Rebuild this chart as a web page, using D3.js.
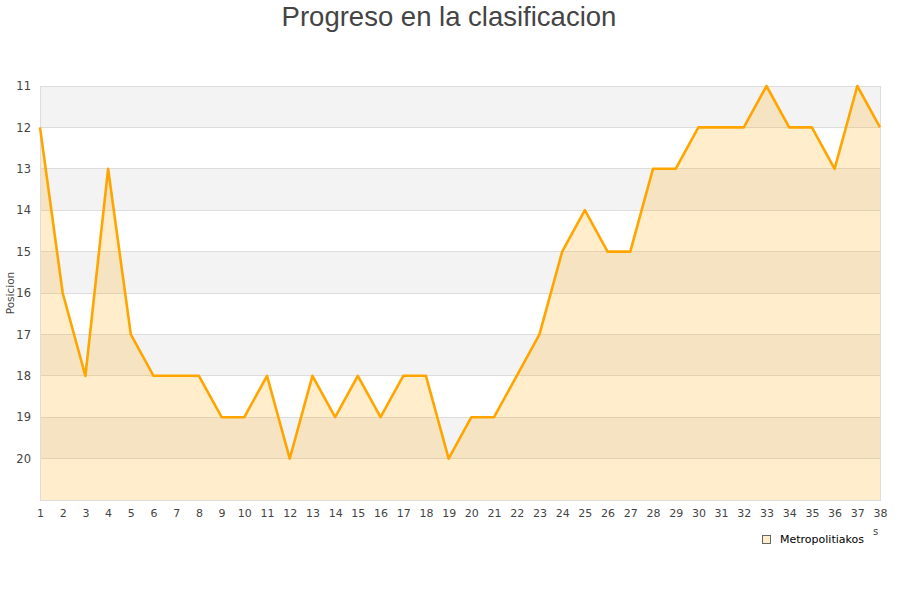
<!DOCTYPE html>
<html><head><meta charset="utf-8">
<script src="https://cdn.jsdelivr.net/npm/d3@7"></script>
<style>body{margin:0;background:#fff}svg{display:block}</style>
</head><body>
<svg id="c" width="900" height="600"></svg>
<script>
const jornadas = d3.range(1, 39);
const posiciones = [12,16,18,13,17,18,18,18,19,19,18,20,18,19,18,19,18,18,20,19,19,18,17,15,14,15,15,13,13,12,12,12,11,12,12,13,11,12];
const yTicks = [11,12,13,14,15,16,17,18,19,20];
const seriesName = "Metropolitiakos";
const title = "Progreso en la clasificacion";
const yLabel = "Posicion";

const svg = d3.select("#c");
const L = 40, R = 880, T = 86, B = 500;
const x = d3.scaleLinear().domain([1, 38]).range([L, R]);
const y = d3.scaleLinear().domain([11, 21]).range([T, B]);

// bands
const bands = d3.range(11, 21);
svg.append("g").selectAll("rect").data(bands).join("rect")
  .attr("x", L).attr("width", R - L)
  .attr("y", d => y(d)).attr("height", d => y(d + 1) - y(d))
  .attr("fill", d => (d % 2 === 1) ? "#f3f3f3" : "#ffffff");

// grid lines
svg.append("g").selectAll("line").data(d3.range(12, 21)).join("line")
  .attr("x1", L).attr("x2", R).attr("y1", d => y(d)).attr("y2", d => y(d))
  .attr("stroke", "#dddddd").attr("stroke-width", 1).attr("shape-rendering", "crispEdges");

// area
const area = d3.area().x((d, i) => x(jornadas[i])).y0(y(21)).y1(d => y(d));
svg.append("path").datum(posiciones).attr("d", area)
  .attr("fill", "#ffa500").attr("fill-opacity", 0.2);

// border
svg.append("rect").attr("x", L).attr("y", T).attr("width", R - L).attr("height", B - T)
  .attr("fill", "none").attr("stroke", "#dddddd").attr("shape-rendering", "crispEdges");

// line
const line = d3.line().x((d, i) => x(jornadas[i])).y(d => y(d));
svg.append("path").datum(posiciones).attr("d", line)
  .attr("fill", "none").attr("stroke", "#ffa500").attr("stroke-width", 2.6)
  .attr("stroke-linejoin", "round");

// y axis labels
const yAxis = d3.axisLeft(y).tickValues(yTicks).tickSize(0).tickPadding(9).tickFormat(d3.format("d"));
const gy = svg.append("g").attr("transform", `translate(${L},0)`).call(yAxis);
gy.select(".domain").remove();
gy.selectAll("text").attr("font-family", "DejaVu Sans").attr("font-size", 11.5).attr("fill", "#444");

// x axis labels
const xAxis = d3.axisBottom(x).tickValues(jornadas).tickSize(0).tickPadding(9).tickFormat(d3.format("d"));
const gx = svg.append("g").attr("transform", `translate(0,${B})`).call(xAxis);
gx.select(".domain").remove();
gx.selectAll("text").attr("font-family", "DejaVu Sans").attr("font-size", 11).attr("fill", "#444");

// y title
svg.append("text").attr("transform", "translate(14,293) rotate(-90)")
  .attr("text-anchor", "middle").attr("font-family", "DejaVu Sans").attr("font-size", 10.5)
  .attr("fill", "#444").text(yLabel);

// title
svg.append("text").attr("x", 449).attr("y", 26).attr("text-anchor", "middle")
  .attr("font-family", "Liberation Sans").attr("font-size", 27.5).attr("fill", "#444").text(title);

// legend
svg.append("rect").attr("x", 762.5).attr("y", 535.5).attr("width", 8).attr("height", 8)
  .attr("fill", "#ffa500").attr("fill-opacity", 0.2).attr("stroke", "#666").attr("stroke-width", 1);
svg.append("text").attr("x", 780).attr("y", 543).attr("font-family", "DejaVu Sans")
  .attr("font-size", 11).attr("fill", "#000").text(seriesName);
svg.append("text").attr("x", 873).attr("y", 535).attr("font-family", "DejaVu Sans")
  .attr("font-size", 10).attr("fill", "#444").text("s");
</script>
</body></html>
